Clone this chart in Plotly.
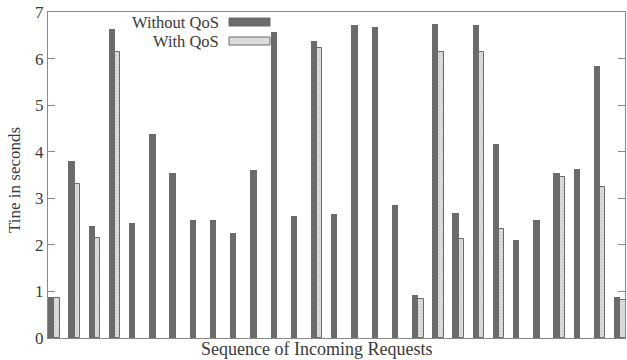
import plotly.graph_objects as go

# Response time per incoming request, in seconds
requests = list(range(29))
without_qos = [0.88, 3.81, 2.40, 6.64, 2.46, 4.37, 3.55, 2.53, 2.54, 2.25,
               3.60, 6.57, 2.62, 6.37, 2.67, 6.72, 6.67, 2.86, 0.93, 6.74,
               2.68, 6.72, 4.16, 2.10, 2.54, 3.54, 3.63, 5.84, 0.89]
with_qos = [0.86, 3.31, 2.15, 6.15, None, None, None, None, None, None,
            None, None, None, 6.22, None, None, None, None, 0.84, 6.14,
            2.12, 6.14, 2.35, None, None, 3.45, None, 3.25, 0.82]

y_ticks = [0, 1, 2, 3, 4, 5, 6, 7]

dark = "#6b6b6b"
light = "#dcdcdc"
text_col = "#3a3a3a"
axis_col = "#8a8a8a"
font_family = "Liberation Serif, Times New Roman, serif"

# plot area in pixels: left 48, right 625, top 12, bottom 338
PL, PW, PT, PH = 48, 577, 12, 326


def px_x(px):
    return (px - PL) / PW


def px_y(py):
    return 1 - (py - PT) / PH


fig = go.Figure()
fig.add_bar(x=requests, y=without_qos, width=0.31, offset=-0.31,
            marker=dict(color=dark, line=dict(width=0)),
            name="Without QoS", showlegend=False)
fig.add_bar(x=requests, y=with_qos, width=0.26, offset=0.0,
            marker=dict(color=light, line=dict(color=dark, width=1),
                        pattern=dict(shape=".", size=3, solidity=0.25,
                                     fgcolor="#b5b5b5", bgcolor=light)),
            name="With QoS", showlegend=False)

# Legend drawn with text to the left of each swatch
legend_rows = [("Without QoS", dark, dark, 22), ("With QoS", light, dark, 41)]
for label, fill, edge, yy in legend_rows:
    fig.add_annotation(x=px_x(221), y=px_y(yy), xref="paper", yref="paper",
                       text=label, showarrow=False, xanchor="right", yanchor="middle",
                       font=dict(family=font_family, size=16.5, color=text_col))
    fig.add_shape(type="rect", xref="paper", yref="paper",
                  x0=px_x(229), x1=px_x(270),
                  y0=px_y(yy + 4), y1=px_y(yy - 4),
                  fillcolor=fill, line=dict(color=edge, width=1))

fig.update_layout(
    width=627, height=360,
    margin=dict(l=PL, r=627 - PL - PW, t=PT, b=360 - PT - PH),
    paper_bgcolor="white", plot_bgcolor="white",
    barmode="overlay", bargap=0,
    font=dict(family=font_family, size=16, color=text_col),
    xaxis=dict(range=[-0.32, 28.23], showticklabels=False, ticks="",
               showgrid=False, zeroline=False, showline=True, mirror=True,
               linecolor=axis_col, linewidth=1),
    yaxis=dict(range=[0, 7], tickvals=y_ticks, ticks="inside", ticklen=7,
               tickcolor=axis_col, showgrid=False, zeroline=False,
               showline=True, mirror="ticks", linecolor=axis_col, linewidth=1,
               tickfont=dict(family=font_family, size=17, color=text_col)),
)
fig.add_annotation(x=px_x(14), y=px_y(180), xref="paper", yref="paper",
                   text="Tine in seconds", textangle=-90, showarrow=False,
                   xanchor="center", yanchor="middle",
                   font=dict(family=font_family, size=17, color=text_col))
fig.add_annotation(x=px_x(316), y=px_y(349), xref="paper", yref="paper",
                   text="Sequence of Incoming Requests", showarrow=False,
                   xanchor="center", yanchor="middle",
                   font=dict(family=font_family, size=18, color=text_col))

fig.write_html("out.html")
